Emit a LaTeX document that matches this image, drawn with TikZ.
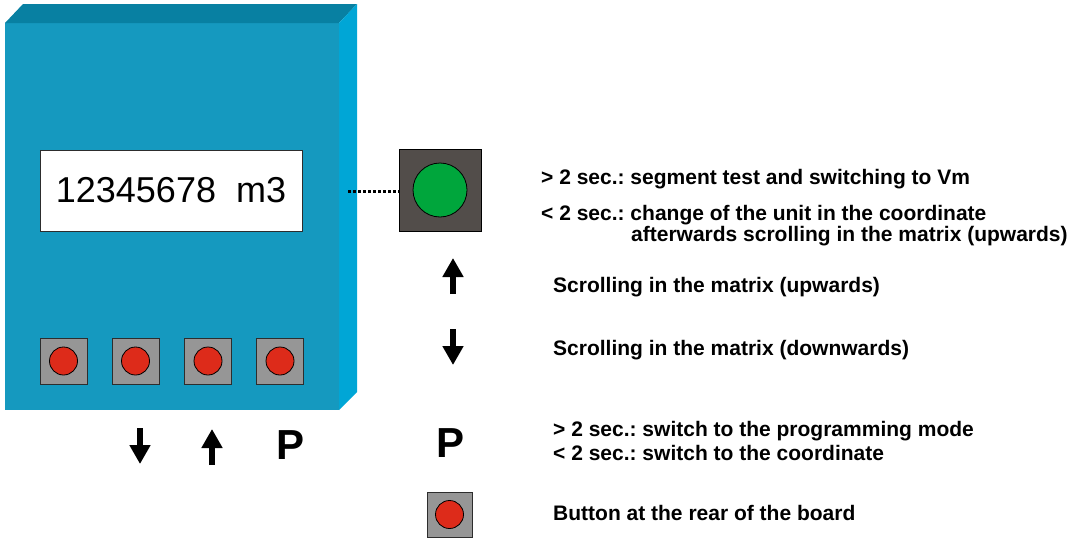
\documentclass[tikz,border=0pt]{standalone}
\usepackage{fontspec}
\setmainfont{Liberation Sans}
\usetikzlibrary{arrows.meta}
\frenchspacing

\definecolor{frontblue}{RGB}{21,153,191}
\definecolor{topblue}{RGB}{8,128,162}
\definecolor{sideblue}{RGB}{0,166,214}
\definecolor{capgray}{RGB}{150,150,150}
\definecolor{capdark}{RGB}{82,77,74}
\definecolor{knobred}{RGB}{221,43,26}
\definecolor{knobgreen}{RGB}{0,166,60}
\definecolor{rimgray}{RGB}{45,45,45}

\begin{document}
\begin{tikzpicture}[x=1pt,y=-1pt,
  housing/.style={rectangle,fill=frontblue,inner sep=0pt,outer sep=0pt,
    minimum width=334pt,minimum height=387pt},
  display/.style={rectangle,fill=white,draw=rimgray,line width=1pt,
    minimum width=262pt,minimum height=81pt,inner sep=0pt,
    font=\fontsize{36}{36}\selectfont},
  keycap/.style={rectangle,fill=capgray,draw=rimgray,line width=1pt,
    minimum width=47pt,minimum height=46pt,inner sep=0pt},
  redknob/.style={circle,fill=knobred,draw=black,line width=0.8pt,
    minimum size=28pt,inner sep=0pt},
  greencap/.style={rectangle,fill=capdark,draw=black,line width=1pt,
    minimum size=82pt,inner sep=0pt},
  greenknob/.style={circle,fill=knobgreen,draw=black,line width=0.8pt,
    minimum size=54pt,inner sep=0pt},
  dotline/.style={line width=3pt,dash pattern=on 3pt off 2pt},
  bigarrow/.style={line width=5.5pt,-{Triangle[width=20pt,length=19pt]}},
  caption/.style={font=\fontsize{21}{21}\selectfont\bfseries,inner sep=0pt,anchor=base west},
  keyletter/.style={font=\fontsize{42}{42}\selectfont\bfseries,inner sep=0pt}
]
\useasboundingbox (0,0) rectangle (1073,538);

% meter housing: front, top and side faces
\node[housing,anchor=north west] (front) at (5,23) {};
\fill[topblue] (front.north west) -- ++(18,-19) -- ++(334,0) -- (front.north east) -- cycle;
\fill[sideblue] (front.north east) -- ++(18,-19) -- ++(0,388) -- (front.south east) -- cycle;

% display
\node[display] (lcd) at (171,190.5) {12345678\ \ m3};

% four front keys
\foreach \k/\x in {1/63.5,2/135.5,3/208,4/280}{
  \node[keycap] (key\k) at (\x,361) {};
  \node[redknob] (key\k dot) at (key\k) {};
}

% key symbols below the housing
\coordinate (dnA) at (140,428);
\coordinate (dnB) at (140,464);
\draw[bigarrow] (dnA) -- (dnB);
\coordinate (upA) at (212,465);
\coordinate (upB) at (212,429);
\draw[bigarrow] (upA) -- (upB);
\node[keyletter] (pkey) at (291,445) {P};

% rear button linked to the display
\node[greencap] (rear) at (440,190) {};
\node[greenknob] (reardot) at (rear) {};
\coordinate (tap) at (348,191);
\draw[dotline] (tap) -- (tap -| rear.west);

% legend
\node[caption] (t1) at (541,184.5) {> 2 sec.: segment test and switching to Vm};
\node[caption] (t2) at (541,220.5) {< 2 sec.: change of the unit in the coordinate};
\node[caption] (t3) at (631,241.5) {afterwards scrolling in the matrix (upwards)};

\coordinate (lupA) at (453,294);
\coordinate (lupB) at (453,258);
\draw[bigarrow] (lupA) -- (lupB);
\node[caption] (t4) at (553,292.5) {Scrolling in the matrix (upwards)};

\coordinate (ldnA) at (453,329);
\coordinate (ldnB) at (453,365);
\draw[bigarrow] (ldnA) -- (ldnB);
\node[caption] (t5) at (553,355.5) {Scrolling in the matrix (downwards)};

\node[keyletter] (lp) at (451,443) {P};
\node[caption] (t6) at (553,436.5) {> 2 sec.: switch to the programming mode};
\node[caption] (t7) at (553,460.5) {< 2 sec.: switch to the coordinate};

\node[keycap,minimum width=45pt,minimum height=45pt] (rb) at (449.5,514.5) {};
\node[redknob] (rbdot) at (rb) {};
\node[caption] (t8) at (553,520.5) {Button at the rear of the board};
\end{tikzpicture}
\end{document}
